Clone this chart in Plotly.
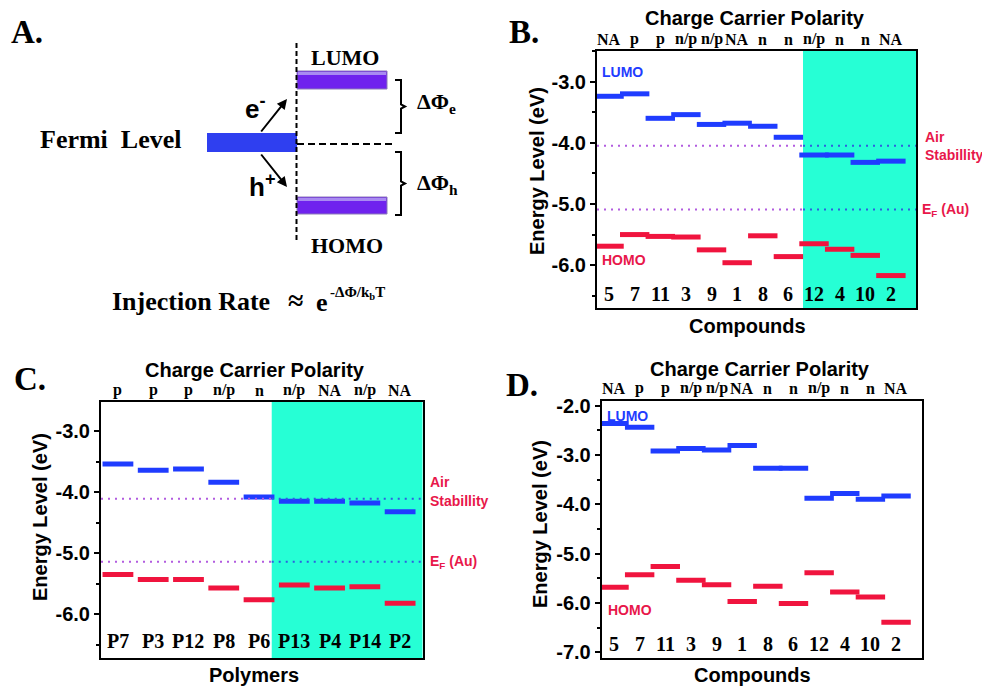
import plotly.graph_objects as go

# ---------------- data ----------------
compounds = ["5", "7", "11", "3", "9", "1", "8", "6", "12", "4", "10", "2"]
polarity_compounds = ["NA", "p", "p", "n/p", "n/p", "NA", "n", "n", "n/p", "n", "n", "NA"]
lumo_b = [-3.24, -3.20, -3.60, -3.54, -3.70, -3.68, -3.73, -3.91, -4.20, -4.20, -4.32, -4.30]
homo_b = [-5.69, -5.50, -5.53, -5.54, -5.75, -5.96, -5.52, -5.86, -5.65, -5.74, -5.84, -6.17]

polymers = ["P7", "P3", "P12", "P8", "P6", "P13", "P4", "P14", "P2"]
polarity_polymers = ["p", "p", "p", "n/p", "n", "n/p", "NA", "n/p", "NA"]
lumo_c = [-3.54, -3.64, -3.62, -3.84, -4.08, -4.15, -4.15, -4.18, -4.32]
homo_c = [-5.35, -5.43, -5.43, -5.57, -5.76, -5.52, -5.57, -5.55, -5.82]

lumo_d = [-2.36, -2.44, -2.92, -2.87, -2.90, -2.81, -3.27, -3.27, -3.88, -3.78, -3.90, -3.83]
homo_d = [-5.68, -5.43, -5.26, -5.54, -5.63, -5.97, -5.66, -6.01, -5.39, -5.78, -5.88, -6.39]

# reference levels (eV): air-stability threshold and Au work function
air_b, ef_b = -4.05, -5.09
air_c, ef_c = -4.11, -5.14

# boundary of the air-stable (shaded) region, in category units
stable_start_b = 8.57
stable_start_c = 5.36

# ---------------- styling ----------------
W, H = 982, 686
SANS = "Liberation Sans"
SERIF = "Liberation Serif"
BLUE = "#1f3cff"
RED = "#f0143e"
LABEL_RED = "#e8174a"
CYAN = "#26ffd5"
DOT_WHITE = "#b25ce0"
DOT_CYAN = "#2f5ee0"
DOT_DASH = "2px,5px"


def px(x):
    return x / W


def py(y):
    return 1 - y / H


fig = go.Figure()

# panel geometry in pixels: (left, right, top, bottom)
panels = {
    "2": dict(box=(597, 916, 51, 308), xr=[0.53, 12.98], yr=[-6.7, -2.5],
              ticks=[-3, -4, -5, -6]),
    "3": dict(box=(101, 422.7, 401.7, 658.3), xr=[0.52, 9.64], yr=[-6.72, -2.52],
              ticks=[-3, -4, -5, -6]),
    "4": dict(box=(601.7, 921.7, 400.7, 657.7), xr=[0.52, 13.0], yr=[-7.11, -1.9],
              ticks=[-2, -3, -4, -5, -6, -7]),
}

layout_axes = {}
for k, p in panels.items():
    l, r, t, b = p["box"]
    layout_axes[f"xaxis{k}"] = dict(
        domain=[px(l), px(r)], range=p["xr"], anchor=f"y{k}",
        showline=True, mirror=True, linewidth=2, linecolor="black",
        ticks="", showticklabels=False, showgrid=False, zeroline=False,
        fixedrange=True,
    )
    layout_axes[f"yaxis{k}"] = dict(
        domain=[py(b), py(t)], range=p["yr"], anchor=f"x{k}",
        showline=True, mirror=True, linewidth=2, linecolor="black",
        ticks="outside", ticklen=5, tickwidth=2, tickcolor="black",
        tickvals=p["ticks"], ticktext=[f"-{abs(v):.1f}" for v in p["ticks"]],
        tickfont=dict(family=SANS, size=20, color="black", weight="bold"),
        minor=dict(dtick=0.5, tick0=0, ticks="outside", ticklen=3, tickwidth=2,
                   tickcolor="black"),
        showgrid=False, zeroline=False, fixedrange=True,
    )

# schematic panel A uses a hidden pixel-unit axis pair
layout_axes["xaxis"] = dict(domain=[0, px(490)], range=[0, 490], visible=False,
                            fixedrange=True)
layout_axes["yaxis"] = dict(domain=[py(330), 1], range=[330, 0], visible=False,
                            fixedrange=True)


def add_levels(k, lumo, homo, width):
    xs = list(range(1, len(lumo) + 1))
    for vals, col in ((lumo, BLUE), (homo, RED)):
        fig.add_trace(go.Scatter(
            x=xs, y=vals, mode="markers", xaxis=f"x{k}", yaxis=f"y{k}",
            marker=dict(symbol="line-ew", size=width,
                        line=dict(width=5, color=col)),
            showlegend=False, hoverinfo="y",
        ))


add_levels("2", lumo_b, homo_b, 21)
add_levels("3", lumo_c, homo_c, 22)
add_levels("4", lumo_d, homo_d, 21)

# keep the hidden schematic axes alive
fig.add_trace(go.Scatter(x=[None], y=[None], xaxis="x", yaxis="y",
                         showlegend=False, hoverinfo="skip"))

shapes = []
annotations = []

# shaded air-stable regions and dotted reference lines
for k, start, air, ef in (("2", stable_start_b, air_b, ef_b),
                          ("3", stable_start_c, air_c, ef_c)):
    x_lo, x_hi = panels[k]["xr"]
    shapes.append(dict(type="rect", xref=f"x{k}", yref=f"y{k} domain",
                       x0=start, x1=x_hi, y0=0, y1=1,
                       fillcolor=CYAN, line=dict(width=0), layer="below"))
    for lvl in (air, ef):
        for x0, x1, col in ((x_lo, start, DOT_WHITE), (start, x_hi, DOT_CYAN)):
            shapes.append(dict(type="line", xref=f"x{k}", yref=f"y{k}",
                               x0=x0, x1=x1, y0=lvl, y1=lvl,
                               line=dict(color=col, width=2, dash=DOT_DASH)))


def text(x, y, s, size, family=SANS, color="black", bold=True, xanchor="center",
         xref="paper", yref="paper", angle=0):
    annotations.append(dict(
        x=x, y=y, xref=xref, yref=yref, text=s, showarrow=False,
        xanchor=xanchor, yanchor="middle", textangle=angle,
        font=dict(family=family, size=size, color=color,
                  weight="bold" if bold else "normal"),
    ))


# ---- panel B ----
text(px(524), py(32), "B.", 33, SERIF)
text(px(755), py(18), "Charge Carrier Polarity", 20)
for i, s in enumerate(polarity_compounds, start=1):
    text(i, py(39), s, 16, SERIF, xref="x2")
for i, s in enumerate(compounds, start=1):
    text(i, py(294), s, 20, SERIF, xref="x2")
text(px(747), py(326), "Compounds", 20)
text(px(537), py(171), "Energy Level (eV)", 20, angle=-90)
text(px(600), py(72), "LUMO", 14, color=BLUE, xanchor="left")
text(px(600), py(260), "HOMO", 14, color=LABEL_RED, xanchor="left")
text(px(923), py(137), "Air", 14, color=LABEL_RED, xanchor="left")
text(px(923), py(155), "Stabillity", 14, color=LABEL_RED, xanchor="left")
text(px(920), py(210), "E<sub>F</sub> (Au)", 14, color=LABEL_RED, xanchor="left")

# ---- panel C ----
text(px(30), py(379), "C.", 33, SERIF)
text(px(255), py(370), "Charge Carrier Polarity", 20)
for i, s in enumerate(polarity_polymers, start=1):
    text(i, py(390), s, 16, SERIF, xref="x3")
for i, s in enumerate(polymers, start=1):
    text(i, py(641), s, 20, SERIF, xref="x3")
text(px(254), py(675), "Polymers", 20)
text(px(40), py(517), "Energy Level (eV)", 20, angle=-90)
text(px(428), py(482), "Air", 14, color=LABEL_RED, xanchor="left")
text(px(428), py(501), "Stabillity", 14, color=LABEL_RED, xanchor="left")
text(px(428), py(562), "E<sub>F</sub> (Au)", 14, color=LABEL_RED, xanchor="left")

# ---- panel D ----
text(px(522), py(385), "D.", 33, SERIF)
text(px(760), py(369), "Charge Carrier Polarity", 20)
for i, s in enumerate(polarity_compounds, start=1):
    text(i, py(388), s, 16, SERIF, xref="x4")
for i, s in enumerate(compounds, start=1):
    text(i, py(644), s, 20, SERIF, xref="x4")
text(px(752), py(675), "Compounds", 20)
text(px(540), py(524), "Energy Level (eV)", 20, angle=-90)
text(px(605), py(416), "LUMO", 14, color=BLUE, xanchor="left")
text(px(606), py(610), "HOMO", 14, color=LABEL_RED, xanchor="left")

# ---- panel A: injection schematic (pixel units) ----
A = dict(xref="x", yref="y")
PURPLE = "#6f22ee"
PURPLE_HI = "#a98af2"
PURPLE_EDGE = "#8c7ab8"
FERMI = "#2f3ff0"

shapes.append(dict(type="rect", x0=207, x1=297, y0=133, y1=152,
                   fillcolor=FERMI, line=dict(width=0), **A))
for y0, y1 in ((71, 89), (197, 214)):
    shapes.append(dict(type="rect", x0=297, x1=387, y0=y0, y1=y1,
                       fillcolor=PURPLE, line=dict(color=PURPLE_EDGE, width=1), **A))
    shapes.append(dict(type="rect", x0=298, x1=386, y0=y0 + 1, y1=y0 + 4,
                       fillcolor=PURPLE_HI, line=dict(width=0), **A))
shapes.append(dict(type="line", x0=296.5, x1=296.5, y0=43, y1=241,
                   line=dict(color="black", width=2, dash="5px,3px"), **A))
shapes.append(dict(type="line", x0=297, x1=396, y0=144, y1=144,
                   line=dict(color="black", width=2, dash="7px,4px"), **A))


def brace(x0, ya, yb, depth=10):
    xm = x0 + depth * 0.6
    xt = x0 + depth
    ym = (ya + yb) / 2
    return (f"M {x0},{ya} L {xm},{ya} L {xm},{ym - 2} L {xt},{ym} "
            f"L {xm},{ym + 2} L {xm},{yb} L {x0},{yb}")


for ya, yb in ((80, 133), (152, 215)):
    shapes.append(dict(type="path", path=brace(395, ya, yb),
                       line=dict(color="black", width=2), **A))

for (hx, hy), (tx, ty) in (((287, 99), (260, 133)), ((287, 187), (260, 153))):
    annotations.append(dict(x=hx, y=hy, ax=tx, ay=ty, axref="x", ayref="y",
                            text="", showarrow=True, arrowhead=2, arrowsize=1,
                            arrowwidth=2, arrowcolor="black", **A))

text(27, 32, "A.", 33, SERIF, xref="x", yref="y")
text(345, 57, "LUMO", 22, SERIF, xref="x", yref="y")
text(347, 245, "HOMO", 22, SERIF, xref="x", yref="y")
text(111, 139, "Fermi\u00a0 Level", 26, SERIF, xref="x", yref="y")
text(255, 107, "e<sup>-</sup>", 26, SANS, xref="x", yref="y")
text(262, 185, "h<sup>+</sup>", 26, SANS, xref="x", yref="y")
text(415, 103, "ΔΦ<sub>e</sub>", 22, SERIF, xanchor="left", xref="x", yref="y")
text(415, 184, "ΔΦ<sub>h</sub>", 22, SERIF, xanchor="left", xref="x", yref="y")
text(110, 301, "Injection\u00a0Rate", 26, SERIF, xanchor="left", xref="x", yref="y")
text(295, 300, "≈", 28, SERIF, xref="x", yref="y")
text(314, 302, "e", 26, SERIF, xanchor="left", xref="x", yref="y")
text(328, 293, "-ΔΦ/k<sub>b</sub>T", 15, SERIF, xanchor="left", xref="x", yref="y")

fig.update_layout(
    width=W, height=H, margin=dict(l=0, r=0, t=0, b=0),
    template="none", paper_bgcolor="white", plot_bgcolor="white",
    showlegend=False, shapes=shapes, annotations=annotations,
    **layout_axes,
)

fig.write_html("out.html")
